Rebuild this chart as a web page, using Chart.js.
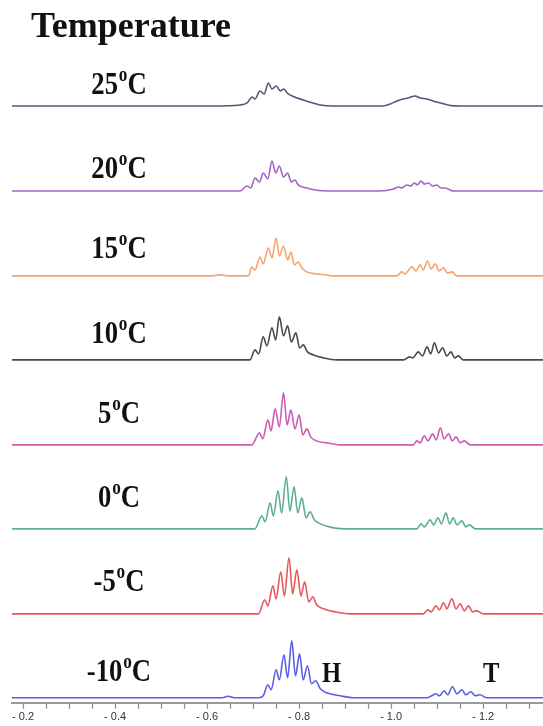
<!DOCTYPE html>
<html lang="en">
<head>
  <meta charset="UTF-8" />
  <title>Variable temperature spectra</title>
  <script src="https://cdn.jsdelivr.net/npm/chart.js"></script>
  <style>
    body { margin: 0; background: #fff; }
    #wrap { position: relative; width: 543px; height: 726px; }
    #spec { position: absolute; left: 0; top: 0; }
    .txt { position: absolute; font-family: 'Liberation Serif', 'Times New Roman', serif; font-weight: bold; color: #111; white-space: nowrap; }
    .title { left: 31px; top: 7px; font-size: 36px; line-height: 36px; }
    .temp { left: 59px; width: 120px; text-align: center; font-size: 31px; line-height: 31px; transform: scaleX(0.86); }
    .temp span { font-size: 20px; position: relative; top: -13px; margin-left: 1px; }
    .mark { font-size: 30px; line-height: 30px; transform: scaleX(0.82); transform-origin: left; }
  </style>
</head>
<body>
<div id="wrap">
  <canvas id="spec" width="543" height="726"></canvas>
  <div class="txt title">Temperature</div>
  <div class="txt temp" style="top:68px">25<span>o</span>C</div>
  <div class="txt temp" style="top:152px">20<span>o</span>C</div>
  <div class="txt temp" style="top:232px">15<span>o</span>C</div>
  <div class="txt temp" style="top:317px">10<span>o</span>C</div>
  <div class="txt temp" style="top:397px">5<span>o</span>C</div>
  <div class="txt temp" style="top:481px">0<span>o</span>C</div>
  <div class="txt temp" style="top:565px">-5<span>o</span>C</div>
  <div class="txt temp" style="top:655px">-10<span>o</span>C</div>
  <div class="txt mark" style="left:322px; top:657px">H</div>
  <div class="txt mark" style="left:483px; top:657px">T</div>
</div>

<script>
  // chemical shift (ppm) and peak height for each temperature
  const t25 = [[-0.613,0],[-0.672,1],[-0.687,3],[-0.698,9],[-0.704,7],[-0.715,15],[-0.724,12],[-0.733,23],[-0.741,17],[-0.750,20],[-0.759,15],[-0.767,17],[-0.774,13],[-0.785,10],[-0.809,6],[-0.830,3],[-0.846,1],[-0.874,0],
               [-0.983,0],[-0.998,2],[-1.013,5],[-1.026,7],[-1.037,8],[-1.052,10],[-1.063,8],[-1.078,7],[-1.091,5],[-1.107,3],[-1.128,0.5],[-1.150,0]];
  const t20 = [[-0.672,0],[-0.686,5],[-0.695,3],[-0.704,13],[-0.714,9],[-0.722,18],[-0.732,12],[-0.741,30],[-0.749,18],[-0.757,25],[-0.766,14],[-0.775,18],[-0.783,9],[-0.791,11],[-0.798,6],[-0.817,3],[-0.835,1],[-0.874,0],
               [-0.976,0],[-1.005,2],[-1.016,4],[-1.023,3],[-1.034,6],[-1.043,5],[-1.050,8],[-1.057,6],[-1.065,10],[-1.072,7],[-1.081,8],[-1.090,5],[-1.099,6],[-1.108,3],[-1.117,3],[-1.135,0]];
  const t15 = [[-0.607,0],[-0.628,1],[-0.650,0],[-0.690,0],[-0.697,9],[-0.704,6],[-0.715,19],[-0.722,12],[-0.733,28],[-0.741,18],[-0.750,38],[-0.757,20],[-0.766,30],[-0.775,16],[-0.782,24],[-0.790,11],[-0.798,14],[-0.806,8],[-0.817,4],[-0.838,2],[-0.860,1],[-0.875,0],
               [-1.012,0],[-1.023,4],[-1.030,2],[-1.045,9],[-1.054,5],[-1.063,11],[-1.070,6],[-1.079,15],[-1.087,7],[-1.096,12],[-1.104,5],[-1.114,8],[-1.122,3],[-1.132,4],[-1.143,0]];
  const t10 = [[-0.693,0],[-0.704,10],[-0.712,6],[-0.722,23],[-0.730,14],[-0.741,32],[-0.749,20],[-0.757,43],[-0.766,24],[-0.775,34],[-0.783,18],[-0.793,27],[-0.801,12],[-0.809,15],[-0.818,8],[-0.831,5],[-0.853,2],[-0.882,0],
               [-1.027,0],[-1.040,3],[-1.047,2],[-1.059,8],[-1.068,4],[-1.078,13],[-1.086,6],[-1.094,17],[-1.103,7],[-1.112,12],[-1.121,4],[-1.130,8],[-1.138,2],[-1.146,4],[-1.157,0]];
  const t5 = [[-0.697,0],[-0.714,12],[-0.721,6],[-0.732,25],[-0.739,14],[-0.748,36],[-0.757,18],[-0.766,52],[-0.774,20],[-0.782,35],[-0.791,16],[-0.800,30],[-0.808,10],[-0.817,16],[-0.825,8],[-0.838,4],[-0.860,2],[-0.889,0],
              [-1.048,0],[-1.056,4],[-1.063,2],[-1.072,9],[-1.080,4],[-1.090,11],[-1.098,5],[-1.107,17],[-1.115,6],[-1.125,11],[-1.133,4],[-1.141,8],[-1.150,2],[-1.159,4],[-1.172,0]];
  const t0 = [[-0.704,0],[-0.719,13],[-0.726,7],[-0.737,26],[-0.744,13],[-0.754,38],[-0.762,16],[-0.772,52],[-0.780,18],[-0.789,42],[-0.797,16],[-0.806,31],[-0.815,11],[-0.824,17],[-0.833,9],[-0.846,5],[-0.875,1],[-0.904,0],
              [-1.056,0],[-1.065,5],[-1.072,2],[-1.085,9],[-1.092,4],[-1.102,11],[-1.109,5],[-1.119,16],[-1.127,5],[-1.135,11],[-1.143,4],[-1.154,8],[-1.162,2],[-1.170,4],[-1.183,0]];
  const tm5 = [[-0.712,0],[-0.725,14],[-0.732,8],[-0.743,28],[-0.750,15],[-0.760,42],[-0.768,18],[-0.778,56],[-0.786,20],[-0.795,44],[-0.804,18],[-0.812,32],[-0.821,12],[-0.830,17],[-0.838,9],[-0.853,5],[-0.889,1],[-0.911,0],
               [-1.070,0],[-1.080,4],[-1.087,2],[-1.097,8],[-1.105,4],[-1.114,11],[-1.121,5],[-1.132,15],[-1.141,5],[-1.150,10],[-1.159,3],[-1.168,8],[-1.177,2],[-1.186,3],[-1.201,0]];
  const tm10 = [[-0.633,0],[-0.646,1.5],[-0.659,0],[-0.712,0],[-0.722,2],[-0.732,13],[-0.739,8],[-0.750,28],[-0.757,18],[-0.767,43],[-0.775,20],[-0.784,57],[-0.792,22],[-0.801,44],[-0.809,18],[-0.818,32],[-0.827,14],[-0.836,17],[-0.846,9],[-0.860,5],[-0.889,2],[-0.918,0],
                [-1.078,0],[-1.088,2],[-1.097,4],[-1.105,2],[-1.115,7],[-1.123,3],[-1.133,11],[-1.143,4],[-1.154,8],[-1.162,3],[-1.173,6],[-1.183,2],[-1.193,3],[-1.208,0]];

  const spectra = [t25, t20, t15, t10, t5, t0, tm5, tm10];
  const temps = ['25 °C', '20 °C', '15 °C', '10 °C', '5 °C', '0 °C', '-5 °C', '-10 °C'];
  const colors = ['#55557a', '#a463c6', '#f4a46c', '#4a4a4a', '#cc5cb6', '#5fae8e', '#e8575d', '#5c5ce4'];

  const majorTicks = [-0.2, -0.4, -0.6, -0.8, -1.0, -1.2];
  const tickVals = [-0.2, -0.25, -0.3, -0.35, -0.4, -0.45, -0.5, -0.55, -0.6, -0.65, -0.7, -0.75, -0.8, -0.85, -0.9, -0.95, -1.0, -1.05, -1.1, -1.15, -1.2, -1.25, -1.3];
  const shiftLeft = -0.176, shiftRight = -1.33;

  // where each baseline sits (pixels from top of page)
  const baseY = [106, 191, 276, 360, 445, 529, 614, 698];
  const yTop = 703;

  const datasets = spectra.map((pts, i) => {
    const off = yTop - baseY[i];
    const data = [{ x: shiftLeft, y: off }]
      .concat(pts.map(p => ({ x: p[0], y: p[1] + off })))
      .concat([{ x: shiftRight, y: off }]);
    return {
      label: temps[i],
      data,
      borderColor: colors[i],
      borderWidth: 1.6,
      pointRadius: 0,
      fill: false,
      cubicInterpolationMode: 'monotone'
    };
  });

  new Chart(document.getElementById('spec').getContext('2d'), {
    type: 'line',
    data: { datasets },
    options: {
      responsive: false,
      animation: false,
      devicePixelRatio: 1,
      layout: { padding: { left: 12, right: 0, top: 0, bottom: 0 } },
      plugins: { legend: { display: false }, tooltip: { enabled: false } },
      scales: {
        x: {
          type: 'linear',
          reverse: true,
          min: shiftRight,
          max: shiftLeft,
          afterBuildTicks: s => { s.ticks = tickVals.map(v => ({ value: v })); },
          grid: { drawOnChartArea: false, drawTicks: true, tickLength: 6, color: '#8a8a8a', tickWidth: 1.2 },
          border: { display: true, color: '#9a9a9a', width: 2 },
          ticks: {
            autoSkip: false,
            maxRotation: 0,
            padding: 2,
            color: '#333',
            font: { family: "'Liberation Sans Narrow', 'Liberation Sans', sans-serif", size: 11 },
            callback: v => majorTicks.some(m => Math.abs(m - v) < 1e-6) ? '- ' + Math.abs(v).toFixed(1) : ''
          }
        },
        y: { display: false, min: 0, max: yTop }
      }
    }
  });
</script>
</body>
</html>
